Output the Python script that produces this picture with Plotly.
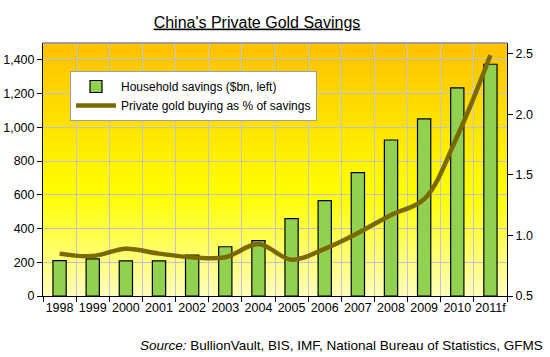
import plotly.graph_objects as go

years = ["1998", "1999", "2000", "2001", "2002", "2003", "2004", "2005",
         "2006", "2007", "2008", "2009", "2010", "2011f"]
savings = [210, 220, 208, 208, 242, 292, 328, 459, 565, 731, 925, 1050, 1234, 1374]
gold_pct = [0.85, 0.83, 0.89, 0.85, 0.82, 0.82, 0.93, 0.80, 0.89, 1.02, 1.17, 1.30, 1.82, 2.49]

left_ticks = [0, 200, 400, 600, 800, 1000, 1200, 1400]
right_ticks = [0.5, 1.0, 1.5, 2.0, 2.5]

fig = go.Figure()
fig.add_trace(go.Bar(
    x=years, y=savings, name="Household savings ($bn, left)",
    marker=dict(color="#92D050", line=dict(color="black", width=1.2)),
    width=0.4, yaxis="y"))
fig.add_trace(go.Scatter(
    x=years, y=gold_pct, name="Private gold buying as % of savings",
    mode="lines", line=dict(color="#7A6800", width=4.5, shape="spline", smoothing=1.0),
    yaxis="y2"))

# gradient background
def lerp(c1, c2, t):
    return tuple(round(a + (b - a) * t) for a, b in zip(c1, c2))

stops = [(0.0, (255, 192, 0)), (0.45, (255, 240, 0)), (0.6, (255, 255, 0)), (1.0, (255, 255, 190))]
n = 120
shapes = []
for i in range(n):
    f0 = i / n
    f1 = (i + 1) / n
    fm = (f0 + f1) / 2  # from top
    for j in range(len(stops) - 1):
        if stops[j][0] <= fm <= stops[j + 1][0]:
            t = (fm - stops[j][0]) / (stops[j + 1][0] - stops[j][0])
            c = lerp(stops[j][1], stops[j + 1][1], t)
            break
    shapes.append(dict(type="rect", xref="x domain", yref="y domain",
                       x0=0, x1=1, y0=1 - f1, y1=1 - f0 + 0.002,
                       fillcolor="rgb(%d,%d,%d)" % c, line=dict(width=0), layer="below"))
shapes.append(dict(type="line", xref="x domain", yref="y domain", x0=0, x1=1, y0=1, y1=1,
                   line=dict(color="#7F8FBF", width=1.5), layer="above"))

L, R, T, B = 43, 43, 43, 61
W, H = 550, 357
pw, ph = W - L - R, H - T - B

fig.update_layout(
    width=W, height=H,
    margin=dict(l=L, r=R, t=T, b=B, autoexpand=False),
    paper_bgcolor="white", plot_bgcolor="#FFFF00",
    font=dict(family="Liberation Sans, Arial, sans-serif", size=12, color="black"),
    title=dict(text="<u>China's Private Gold Savings</u>", x=257 / W, xanchor="center",
               y=1 - 22 / H, yanchor="middle", font=dict(size=16)),
    shapes=shapes,
    showlegend=True,
    legend=dict(x=(70 - L) / pw, y=(H - B - 71) / ph, xanchor="left", yanchor="top",
                bgcolor="white", bordercolor="#A0A0A0", borderwidth=1,
                font=dict(size=12), itemwidth=40, tracegroupgap=0),
    bargap=0.6,
    xaxis=dict(type="category", tickson="boundaries", ticks="outside", ticklen=5,
               tickcolor="black", showline=True, linecolor="black", linewidth=1,
               tickangle=0, automargin=False,
               showgrid=True, gridcolor="#C4C4D8", gridwidth=1.2, tickfont=dict(size=12.5)),
    yaxis=dict(range=[0, 1500], tickvals=left_ticks, tickformat=",", ticks="outside",
               ticklen=5, tickcolor="black", showline=True, linecolor="black",
               automargin=False,
               showgrid=True, gridcolor="#C0C0DC", gridwidth=1.2, zeroline=False,
               tickfont=dict(size=12.5)),
    yaxis2=dict(range=[0.5, 2.59], tickvals=right_ticks, tickformat=".1f",
                overlaying="y", side="right", ticks="outside", ticklen=5,
                tickcolor="black", showline=True, linecolor="black", showgrid=False,
                automargin=False,
                zeroline=False, tickfont=dict(size=12.5)),
    annotations=[dict(text="<i>Source:</i> BullionVault, BIS, IMF, National Bureau of Statistics, GFMS",
                      xref="paper", yref="paper", x=(545 - L) / pw, y=(H - B - 345) / ph,
                      xanchor="right", yanchor="middle", showarrow=False,
                      font=dict(size=13.5))],
)

fig.write_html("out.html", config={"displayModeBar": False},
               post_script="document.body.style.margin='0';document.body.style.overflow='hidden';")
